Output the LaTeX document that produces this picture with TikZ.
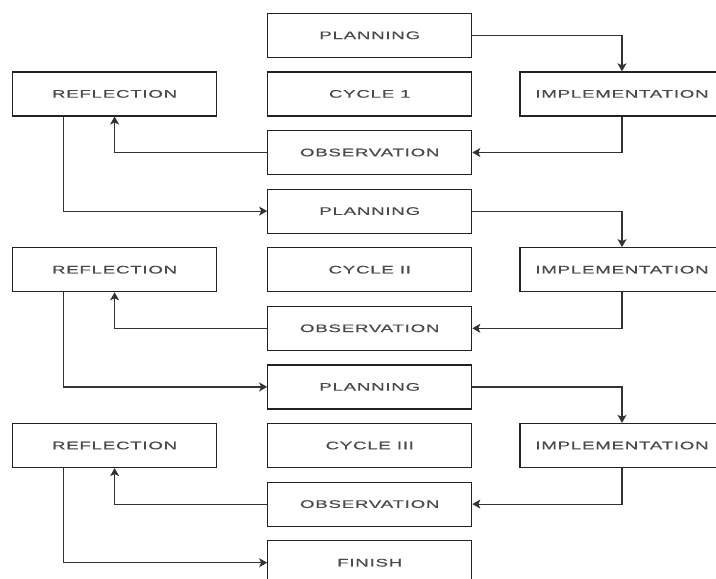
\documentclass[tikz,border=0pt]{standalone}
\usepackage{fontspec}
\usepackage{graphicx}
\setmainfont{Liberation Sans}
\usetikzlibrary{arrows.meta}
\definecolor{txt}{HTML}{4A4A4A}
\definecolor{ln}{HTML}{222222}
\definecolor{cn}{HTML}{333333}
\newcommand{\lbl}[1]{\scalebox{1.7}[1]{\addfontfeature{LetterSpace=4,FakeBold=0.4}#1}}
\begin{document}
\begin{tikzpicture}[x=1pt,y=-1pt,
  box/.style={draw=ln, line width=1.2pt, minimum width=204pt, minimum height=44pt,
    inner sep=0pt, text=txt, font=\fontsize{11}{13}\selectfont},
  conn/.style={draw=cn, line width=1.2pt, -{Stealth[length=8pt,width=9pt,inset=2pt]}},
  plain/.style={draw=cn, line width=1.2pt}]
\clip (0,0) rectangle (716,579);
\fill[white] (0,0) rectangle (716,579);
% cycle 1
\node[box] (p1) at (369.75,35.3) {\lbl{PLANNING}};
\node[box] (r1) at (114.6,93.9) {\lbl{REFLECTION}};
\node[box] (c1) at (369.75,93.9) {\lbl{CYCLE 1}};
\node[box] (i1) at (622,93.9) {\lbl{IMPLEMENTATION}};
\node[box] (o1) at (369.75,152.5) {\lbl{OBSERVATION}};
% cycle 2
\node[box] (p2) at (369.75,211.1) {\lbl{PLANNING}};
\node[box] (r2) at (114.6,269.7) {\lbl{REFLECTION}};
\node[box] (c2) at (369.75,269.7) {\lbl{CYCLE II}};
\node[box] (i2) at (622,269.7) {\lbl{IMPLEMENTATION}};
\node[box] (o2) at (369.75,328.3) {\lbl{OBSERVATION}};
% cycle 3
\node[box] (p3) at (369.75,386.9) {\lbl{PLANNING}};
\node[box] (r3) at (114.6,445.5) {\lbl{REFLECTION}};
\node[box] (c3) at (369.75,445.5) {\lbl{CYCLE III}};
\node[box] (i3) at (622,445.5) {\lbl{IMPLEMENTATION}};
\node[box] (o3) at (369.75,504.1) {\lbl{OBSERVATION}};
\node[box] (f) at (369.75,562.7) {\lbl{FINISH}};
% connectors
\draw[conn] (p1.east) -| (i1.north);
\draw[conn] (i1.south) |- (o1.east);
\draw[conn] (o1.west) -| (r1.south);
\draw[conn] ([xshift=-51pt]r1.south) |- (p2.west);
\draw[conn] (p2.east) -| (i2.north);
\draw[conn] (i2.south) |- (o2.east);
\draw[conn] (o2.west) -| (r2.south);
\draw[conn] ([xshift=-51pt]r2.south) |- (p3.west);
\draw[conn] (p3.east) -| (i3.north);
\draw[conn] (i3.south) |- (o3.east);
\draw[conn] (o3.west) -| (r3.south);
\draw[conn] ([xshift=-51pt]r3.south) |- (f.west);
\end{tikzpicture}
\end{document}
